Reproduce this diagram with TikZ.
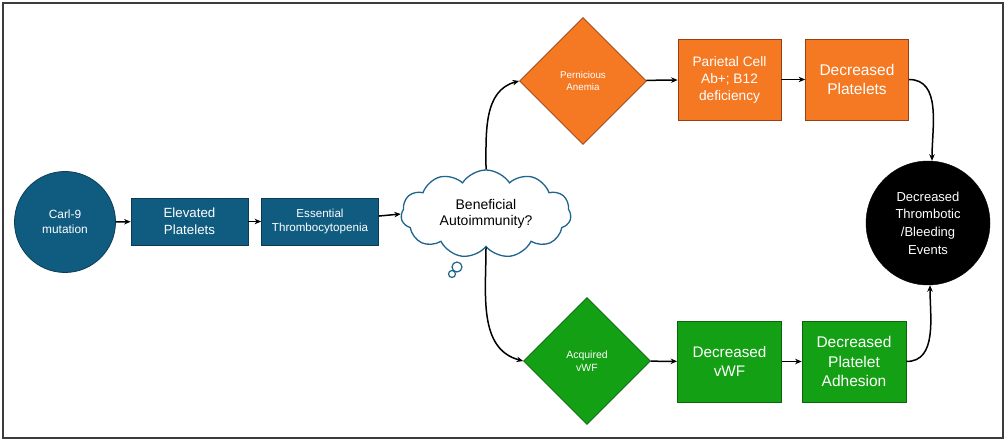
\documentclass[tikz,border=0pt]{standalone}
\usepackage{fontspec}
\setmainfont{Liberation Sans}
\usetikzlibrary{shapes.geometric,shapes.symbols,arrows.meta}
\definecolor{cblue}{RGB}{16,92,128}
\definecolor{cblueline}{RGB}{10,60,85}
\definecolor{corange}{RGB}{245,120,35}
\definecolor{corangeline}{RGB}{150,65,20}
\definecolor{cgreen}{RGB}{20,160,20}
\definecolor{cgreenline}{RGB}{10,100,10}
\definecolor{ccloud}{RGB}{30,100,140}
\definecolor{cframe}{RGB}{60,60,60}
\tikzset{
  fs/.style n args={2}{font=\fontsize{#1}{#2}\selectfont},
  bluebox/.style={rectangle,fill=cblue,draw=cblueline,line width=0.8pt,text=white,align=center,minimum width=117pt,minimum height=47pt,inner sep=1pt},
  orbox/.style={rectangle,fill=corange,draw=corangeline,line width=0.8pt,text=white,align=center,minimum width=103pt,minimum height=81pt,inner sep=1pt},
  grbox/.style={rectangle,fill=cgreen,draw=cgreenline,line width=0.8pt,text=white,align=center,minimum width=104pt,minimum height=81pt,inner sep=1pt},
  dia/.style={diamond,aspect=1,text=white,align=center,minimum width=127pt,minimum height=127pt,inner sep=0pt,line width=0.8pt},
  arr/.style={line width=1.5pt,-{Stealth[length=6.5pt,width=5.5pt]}},
}
\begin{document}
\begin{tikzpicture}[x=1pt,y=-1pt]
\useasboundingbox (0,0) rectangle (1008,443);
\draw[cframe,line width=1.6pt] (3,3) rectangle (1003,438);

\node[circle,fill=cblue,draw=cblueline,line width=0.8pt,text=white,align=center,minimum size=101pt,inner sep=0pt,fs={11.9}{15}] (carl) at (65,222) {Carl-9\\mutation};
\node[bluebox,fs={13.3}{17.3}] (elev) at (189.5,221.5) {Elevated\\Platelets};
\node[bluebox,fs={11.6}{14.7}] (ess) at (320,221.5) {Essential\\Thrombocytopenia};

\node[cloud,cloud puffs=11,cloud puff arc=115,aspect=2.1,draw=ccloud,line width=1.3pt,fill=white,minimum width=170pt,minimum height=88pt,inner sep=0pt,align=center,fs={14}{15.5}] (cloud) at (486,214) {Beneficial\\Autoimmunity?};
\draw[ccloud,line width=1.2pt] (457,267) circle (5pt);
\draw[ccloud,line width=1.2pt] (452,274) circle (3.5pt);

\node[dia,fill=corange,draw=corangeline,fs={9.8}{12.7}] (pa) at (583,81) {Pernicious\\Anemia};
\node[orbox,fs={13.7}{17}] (par) at (729.5,79.5) {Parietal Cell\\Ab+; B12\\deficiency};
\node[orbox,fs={15.5}{19.3}] (dp) at (857,79.5) {Decreased\\Platelets};

\node[dia,fill=cgreen,draw=cgreenline,fs={10.5}{13}] (av) at (587,361) {Acquired\\vWF};
\node[grbox,fs={15.3}{19.3}] (dv) at (729.5,361.5) {Decreased\\vWF};
\node[grbox,fs={15.5}{19.3}] (dpa) at (854,361.5) {Decreased\\Platelet\\Adhesion};

\node[circle,fill=black,draw=black,text=white,align=center,minimum size=124pt,inner sep=0pt,fs={13}{17.6}] (ev) at (928,223) {Decreased\\Thrombotic\\/Bleeding\\Events};

\draw[arr] (carl) -- (elev);
\draw[arr] (elev) -- (ess);
\draw[arr] (ess) -- (cloud.west);
\draw[arr] (cloud.north) to[out=90,in=195] (pa.west);
\draw[arr] (cloud.south) to[out=-90,in=165] (av.west);
\draw[arr] (pa) -- (par);
\draw[arr] (par) -- (dp);
\draw[arr] (av) -- (dv);
\draw[arr] (dv) -- (dpa);
\draw[arr] (dp.east) to[out=0,in=90] ([xshift=4pt]ev.north);
\draw[arr] (dpa.east) to[out=0,in=-90] ([xshift=2pt]ev.south);
\end{tikzpicture}
\end{document}
